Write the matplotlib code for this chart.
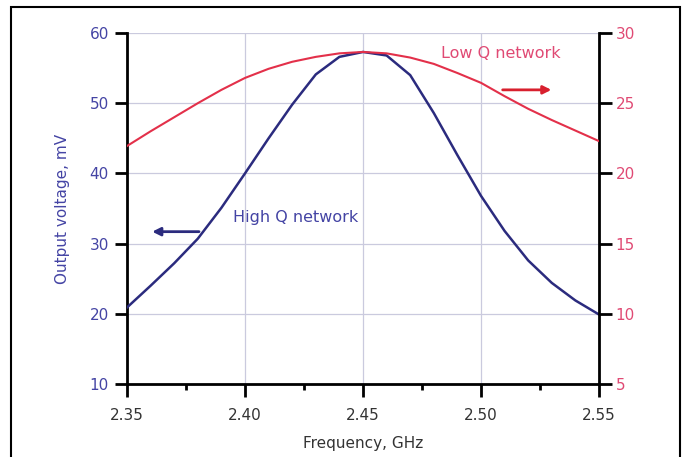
import matplotlib
matplotlib.use('Agg')
import matplotlib.pyplot as plt
from matplotlib.patches import Rectangle
from matplotlib.ticker import MultipleLocator

plt.rcParams['font.family'] = ['DejaVu Sans']

freq = [2.35, 2.36, 2.37, 2.38, 2.39, 2.40, 2.41, 2.42, 2.43, 2.44, 2.45,
        2.46, 2.47, 2.48, 2.49, 2.50, 2.51, 2.52, 2.53, 2.54, 2.55]
# high Q network, left axis (mV)
high_q = [20.9, 24.0, 27.2, 30.7, 35.1, 40.0, 45.0, 49.8, 54.1, 56.6, 57.3,
          56.8, 54.0, 48.6, 42.6, 36.8, 31.8, 27.6, 24.4, 21.9, 19.9]
# low Q network, right axis
low_q = [21.95, 23.0, 24.0, 25.0, 25.95, 26.8, 27.45, 27.95, 28.3, 28.55, 28.65,
         28.55, 28.25, 27.8, 27.15, 26.45, 25.5, 24.6, 23.8, 23.05, 22.3]

blue = '#2b2b7e'
red = '#e3304a'
blue_txt = '#4444a4'
red_txt = '#e04a74'
grey_txt = '#333333'

fig = plt.figure(figsize=(6.83, 4.57), dpi=100)
ax = fig.add_axes([127/683, 73/457, 472/683, 351/457])
ax2 = ax.twinx()

ax.plot(freq, high_q, color=blue, lw=1.8, zorder=3)
ax2.plot(freq, low_q, color=red, lw=1.5, zorder=3)

ax.set_xlim(2.35, 2.55)
ax.set_ylim(10, 60)
ax2.set_ylim(5, 30)
ax.xaxis.set_major_locator(MultipleLocator(0.05))
ax.xaxis.set_minor_locator(MultipleLocator(0.025))
ax.yaxis.set_major_locator(MultipleLocator(10))
ax2.yaxis.set_major_locator(MultipleLocator(5))
ax.set_xticklabels(['%.2f' % v for v in ax.get_xticks()])

ax.grid(True, which='major', color='#cacade', lw=0.9)
ax.set_axisbelow(True)

for a in (ax, ax2):
    a.spines['top'].set_visible(False)
    for s in a.spines.values():
        s.set_linewidth(2.0)
ax.spines['right'].set_visible(False)
ax2.spines['left'].set_visible(False)
ax2.spines['bottom'].set_visible(False)

ax.tick_params(axis='x', which='major', direction='out', length=9, width=2,
               pad=8, labelsize=11, labelcolor=grey_txt)
ax.tick_params(axis='x', which='minor', direction='out', length=4, width=2)
ax.tick_params(axis='y', direction='out', length=9, width=2, pad=4,
               labelsize=11, labelcolor=blue_txt)
ax2.tick_params(axis='y', direction='out', length=9, width=2, pad=3,
                labelsize=11, labelcolor=red_txt)

ax.set_xlabel('Frequency, GHz', fontsize=11, color=grey_txt)
ax.xaxis.set_label_coords(0.5, -0.148)
ax.set_ylabel('Output voltage, mV', fontsize=11, color=blue_txt)
ax.yaxis.set_label_coords(-0.12, 0.5)

ax.text(2.4216, 33.65, 'High Q network', color=blue_txt, fontsize=11.5,
        ha='center', va='center')
ax.annotate('', xy=(2.3595, 31.7), xytext=(2.3817, 31.7),
            arrowprops=dict(arrowstyle='-|>', color=blue, lw=2, mutation_scale=12))
ax2.text(2.5084, 28.57, 'Low Q network', color=red_txt, fontsize=11.5,
         ha='center', va='center')
ax2.annotate('', xy=(2.531, 25.95), xytext=(2.508, 25.95),
             arrowprops=dict(arrowstyle='-|>', color='#d8202e', lw=2, mutation_scale=12))

fig.patches.append(Rectangle((11/683, -0.05), 669/683, 1 - 7/457 + 0.05,
                             transform=fig.transFigure, fill=False,
                             ec='black', lw=1.5))

fig.savefig('out.png', dpi=100)
